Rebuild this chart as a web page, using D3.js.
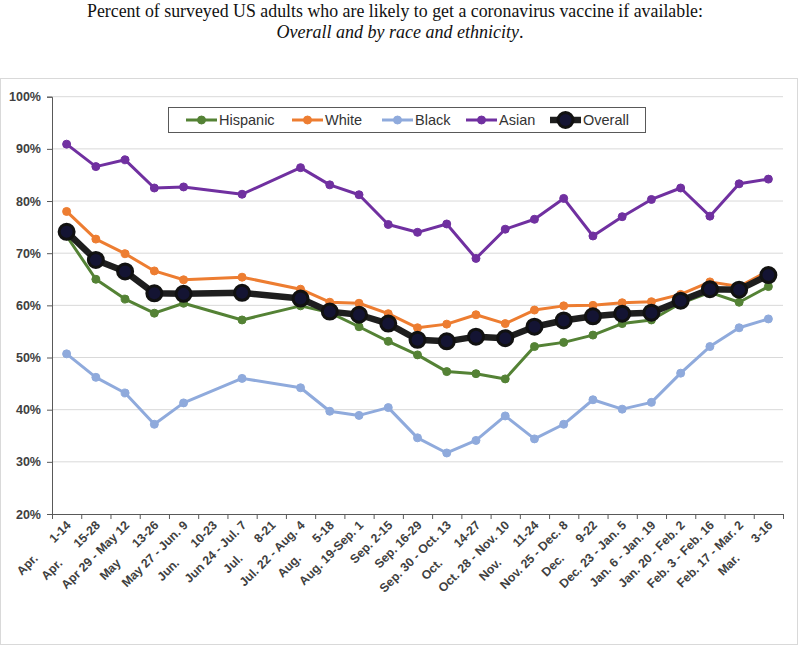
<!DOCTYPE html>
<html><head><meta charset="utf-8">
<script src="https://cdn.jsdelivr.net/npm/d3@7"></script>
<style>body{margin:0;background:#fff}</style>
</head><body><svg id="c" width="800" height="647"></svg>
<script>
// ---- data ----
const categories = [
  ["Apr.", "1-14"], ["Apr.", "15-28"], ["Apr 29 - May 12"], ["May", "13-26"],
  ["May 27 - Jun. 9"], ["Jun.", "10-23"], ["Jun 24 - Jul. 7"], ["Jul.", "8-21"],
  ["Jul. 22 - Aug. 4"], ["Aug.", "5-18"], ["Aug. 19-Sep. 1"], ["Sep. 2-15"],
  ["Sep. 16-29"], ["Sep. 30 - Oct. 13"], ["Oct.", "14-27"], ["Oct. 28 - Nov. 10"],
  ["Nov.", "11-24"], ["Nov. 25 - Dec. 8"], ["Dec.", "9-22"], ["Dec. 23 - Jan. 5"],
  ["Jan. 6 - Jan. 19"], ["Jan. 20 - Feb. 2"], ["Feb. 3 - Feb. 16"], ["Feb. 17 - Mar. 2"],
  ["Mar.", "3-16"]
];
const hispanic = [73.3, 65.0, 61.2, 58.5, 60.4, null, 57.2, null, 59.9, 58.6, 55.9, 53.1, 50.5, 47.3, 46.9, 45.9, 52.1, 52.9, 54.3, 56.5, 57.2, 60.4, 62.5, 60.6, 63.6];
const white    = [78.0, 72.7, 69.9, 66.6, 64.9, null, 65.4, null, 63.1, 60.6, 60.4, 58.4, 55.7, 56.4, 58.2, 56.5, 59.1, 59.9, 60.0, 60.5, 60.7, 62.1, 64.5, 63.6, 66.6];
const black    = [50.7, 46.2, 43.2, 37.2, 41.3, null, 46.0, null, 44.2, 39.7, 38.9, 40.4, 34.6, 31.7, 34.1, 38.8, 34.4, 37.2, 41.9, 40.1, 41.4, 47.0, 52.1, 55.7, 57.4];
const asian    = [90.9, 86.6, 87.9, 82.5, 82.7, null, 81.3, null, 86.4, 83.1, 81.2, 75.5, 74.0, 75.6, 69.0, 74.6, 76.5, 80.5, 73.3, 77.0, 80.3, 82.5, 77.1, 83.3, 84.2];
const overall  = [74.1, 68.7, 66.5, 62.3, 62.2, null, 62.4, null, 61.3, 58.8, 58.2, 56.5, 53.4, 53.1, 54.0, 53.7, 55.9, 57.1, 57.9, 58.4, 58.6, 60.9, 63.1, 63.0, 65.8];
const yTicks = [20, 30, 40, 50, 60, 70, 80, 90, 100];
const seriesNames = ["Hispanic", "White", "Black", "Asian", "Overall"];
const titleLine1 = "Percent of surveyed US adults who are likely to get a coronavirus vaccine if available:";
const titleLine2 = "Overall and by race and ethnicity";

// ---- styles ----
const colors = {Hispanic: "#548235", White: "#ED7D31", Black: "#8FAADC", Asian: "#7030A0", Overall: "#1c1c1c"};
const seriesData = {Hispanic: hispanic, White: white, Black: black, Asian: asian, Overall: overall};

const svg = d3.select("#c");
const L = 52, R = 783, T = 96.7, B = 514;

// outer chart border
svg.append("rect").attr("x", 0.5).attr("y", 78.5).attr("width", 797).attr("height", 566)
  .attr("fill", "#fff").attr("stroke", "#d9d9d9");

// title
const title = svg.append("g").attr("font-family", "'Liberation Serif','Times New Roman',serif")
  .attr("font-size", 18).attr("fill", "#111").attr("text-anchor", "middle");
title.append("text").attr("x", 395).attr("y", 17).attr("textLength", 616).attr("lengthAdjust", "spacingAndGlyphs").text(titleLine1);
const t2 = title.append("text").attr("x", 400).attr("y", 38);
t2.append("tspan").attr("font-style", "italic").text(titleLine2);
t2.append("tspan").text(".");

const x = d3.scaleBand().domain(d3.range(categories.length)).range([L, R]);
const xc = i => x(i) + x.bandwidth() / 2;
const xEdge = d3.scaleLinear().domain([0, categories.length]).range([L, R]);
const y = d3.scaleLinear().domain([20, 100]).range([B, T]);

// gridlines
svg.append("g").selectAll("line").data(yTicks.filter(d => d > 20)).join("line")
  .attr("x1", L).attr("x2", R).attr("y1", d => y(d)).attr("y2", d => y(d))
  .attr("stroke", "#d9d9d9").attr("stroke-width", 1);

// y axis
const yAxis = svg.append("g").attr("transform", `translate(${L},0)`)
  .call(d3.axisLeft(y).tickValues(yTicks).tickFormat(d => d + "%").tickSize(5).tickPadding(6));
yAxis.select(".domain").attr("stroke", "#595959");
yAxis.selectAll(".tick line").attr("stroke", "#595959");
yAxis.selectAll("text").attr("font-family", "'Liberation Sans',Arial,sans-serif")
  .attr("font-size", 12.5).attr("font-weight", "bold").attr("fill", "#404040");

// x axis (ticks at category boundaries)
const xAxis = svg.append("g").attr("transform", `translate(0,${B})`)
  .call(d3.axisBottom(xEdge).tickValues(d3.range(categories.length + 1)).tickFormat("").tickSize(5).tickSizeOuter(0));
xAxis.select(".domain").attr("stroke", "#595959");
xAxis.selectAll(".tick line").attr("stroke", "#595959");

// x labels
const xl = svg.append("g").attr("font-family", "'Liberation Sans',Arial,sans-serif")
  .attr("font-size", 12.3).attr("font-weight", "bold").attr("fill", "#404040");
categories.forEach((c, i) => {
  const t = xl.append("text").attr("text-anchor", "end")
    .attr("transform", `translate(${xc(i) + 5},${B + 12}) rotate(-45)`);
  if (c.length === 2) {
    t.append("tspan").text(c[0]);
    t.append("tspan").attr("dx", 22).text(c[1]);
  } else {
    t.text(c[0]);
  }
});

// series
const line = d3.line().defined(d => d.v != null).x(d => xc(d.i)).y(d => y(d.v));
seriesNames.forEach(name => {
  const pts = seriesData[name].map((v, i) => ({i, v})).filter(d => d.v != null);
  const isO = name === "Overall";
  const g = svg.append("g");
  g.append("path").datum(pts).attr("d", line).attr("fill", "none")
    .attr("stroke", isO ? "#1e1e1e" : colors[name]).attr("stroke-width", isO ? 6.5 : 3)
    .attr("stroke-linejoin", "round");
  g.selectAll("circle").data(pts).join("circle")
    .attr("cx", d => xc(d.i)).attr("cy", d => y(d.v))
    .attr("r", isO ? 7.5 : 4)
    .attr("fill", isO ? "#141433" : colors[name])
    .attr("stroke", isO ? "#111" : colors[name])
    .attr("stroke-width", isO ? 3 : 1);
});

// legend
const lg = svg.append("g");
lg.append("rect").attr("x", 168.5).attr("y", 107.5).attr("width", 477).attr("height", 25)
  .attr("fill", "#fff").attr("stroke", "#595959").attr("stroke-width", 1);
const legendX = [186, 292, 382, 466, 550];
seriesNames.forEach((name, k) => {
  const isO = name === "Overall";
  const x0 = legendX[k], yy = 120;
  lg.append("line").attr("x1", x0).attr("x2", x0 + 31).attr("y1", yy).attr("y2", yy)
    .attr("stroke", isO ? "#1e1e1e" : colors[name]).attr("stroke-width", isO ? 6.5 : 3);
  lg.append("circle").attr("cx", x0 + 15.5).attr("cy", yy).attr("r", isO ? 7.5 : 4)
    .attr("fill", isO ? "#141433" : colors[name]).attr("stroke", isO ? "#111" : colors[name])
    .attr("stroke-width", isO ? 3 : 1);
  lg.append("text").attr("x", x0 + 33).attr("y", yy + 5)
    .attr("font-family", "'Liberation Sans',Arial,sans-serif").attr("font-size", 14.5)
    .attr("fill", "#333").text(name);
});
</script></body></html>
